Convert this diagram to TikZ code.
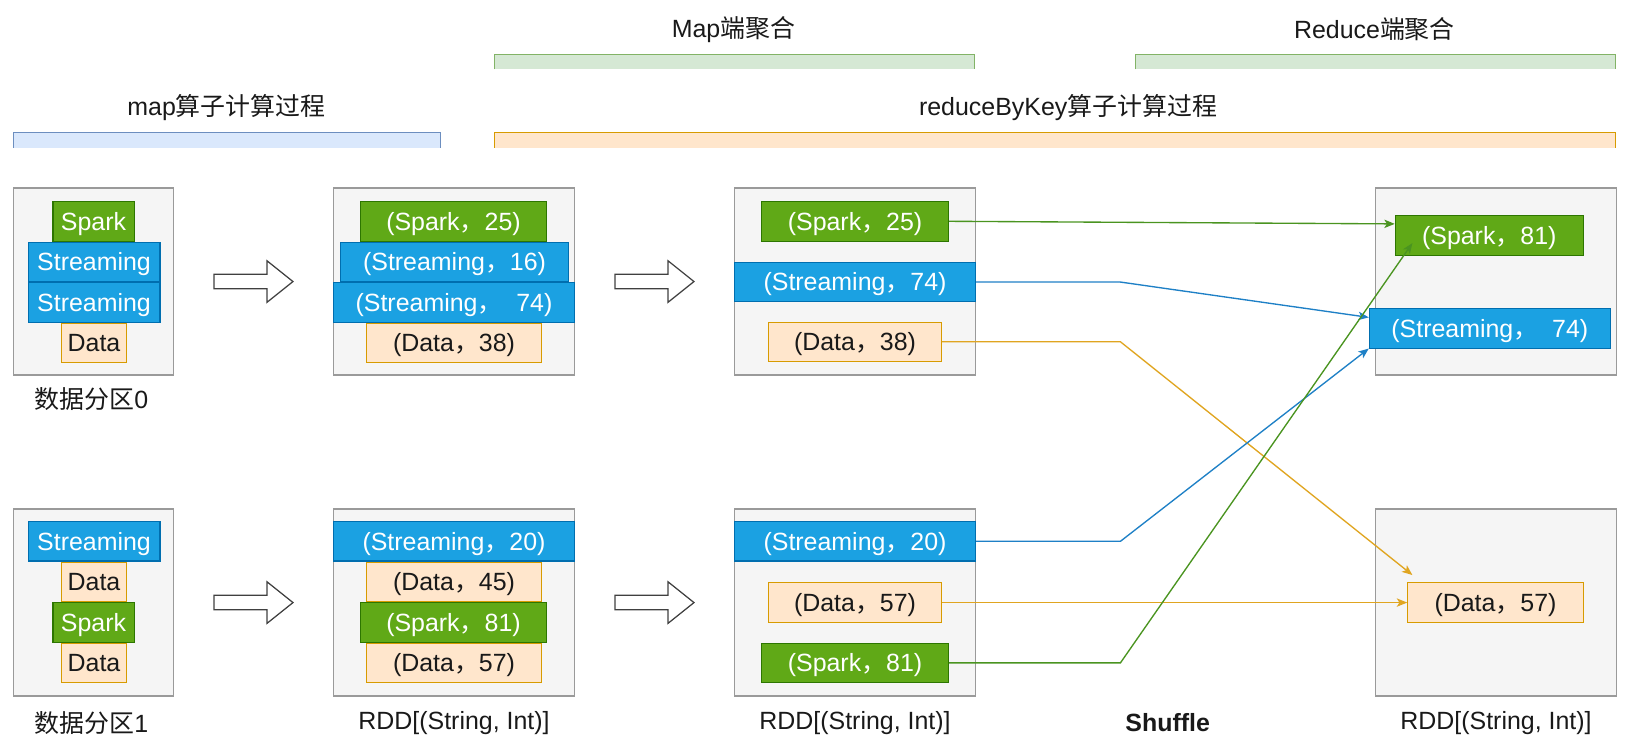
\documentclass[tikz,border=0pt]{standalone}
\usepackage{fontspec}
\setmainfont{Liberation Sans}
\newfontfamily\cjk{Noto Sans CJK SC}
\usetikzlibrary{arrows.meta, positioning, calc}

\definecolor{sparkfill}{HTML}{60A917}
\definecolor{sparkline}{HTML}{2D7600}
\definecolor{streamfill}{HTML}{1BA1E2}
\definecolor{streamline}{HTML}{006EAF}
\definecolor{datafill}{HTML}{FFE6CC}
\definecolor{dataline}{HTML}{D79B00}
\definecolor{partfill}{HTML}{F5F5F5}
\definecolor{partline}{HTML}{9A9A9A}
\definecolor{barblue}{HTML}{DAE8FC}
\definecolor{barblueline}{HTML}{6C8EBF}
\definecolor{bargreen}{HTML}{D5E8D4}
\definecolor{bargreenline}{HTML}{82B366}
\definecolor{greenarrow}{HTML}{4A9420}
\definecolor{bluearrow}{HTML}{1E80C6}
\definecolor{orangearrow}{HTML}{E0A520}

\newcommand{\zhcomma}{{\cjk ，}}

\tikzset{
  item/.style={draw, line width=1pt, inner sep=0pt, minimum height=38pt,
    text height=20pt, text depth=3pt, font=\fontsize{24}{28}\selectfont},
  spark/.style={item, fill=sparkfill, draw=sparkline, text=white},
  stream/.style={item, fill=streamfill, draw=streamline, text=white},
  data/.style={item, fill=datafill, draw=dataline, text=black!90},
  part/.style={draw=partline, fill=partfill, line width=1.5pt,
    minimum width=232pt, minimum height=180pt, inner sep=0pt},
  caption/.style={font=\fontsize{24}{28}\selectfont, text=black!90},
  bar/.style={inner sep=0pt, minimum height=14pt},
  barline/.style={line width=1.2pt},
  hollowarrow/.style={draw=black!75, fill=white, line width=1.2pt, line join=miter},
  conn/.style={line width=1.3pt, -{Stealth[length=10pt, width=8pt, inset=2.5pt]}}
}

\begin{document}
\begin{tikzpicture}[x=1pt, y=-1pt]
\useasboundingbox (0,0) rectangle (1568,723);

% phase bars
\node[bar, fill=bargreen, minimum width=462pt] (barmap) at (707,59.5) {};
\draw[barline, bargreenline] (barmap.south west) |- (barmap.north east) -- (barmap.south east);
\node[caption] (tmap) at (706,28) {Map{\cjk 端聚合}};

\node[bar, fill=bargreen, minimum width=462pt] (barred) at (1324,59.5) {};
\draw[barline, bargreenline] (barred.south west) |- (barred.north east) -- (barred.south east);
\node[caption] (tred) at (1323,28) {Reduce{\cjk 端聚合}};

\node[bar, fill=barblue, minimum width=411pt] (barmapop) at (218.5,135) {};
\draw[barline, barblueline] (barmapop.south west) |- (barmapop.north east) -- (barmapop.south east);
\node[caption] (tmapop) at (218,104) {map{\cjk 算子计算过程}};

\node[bar, fill=datafill, minimum width=1079pt] (barrbk) at (1015.5,135) {};
\draw[barline, dataline] (barrbk.south west) |- (barrbk.north east) -- (barrbk.south east);
\node[caption] (trbk) at (1028,104) {reduceByKey{\cjk 算子计算过程}};

% partitions
\node[part, minimum width=154pt] (in0) at (90,271) {};
\node[part, minimum width=154pt] (in1) at (90,580) {};
\node[part] (map0) at (437,271) {};
\node[part] (map1) at (437,580) {};
\node[part] (comb0) at (823,271) {};
\node[part] (comb1) at (823,580) {};
\node[part] (red0) at (1440,271) {};
\node[part] (red1) at (1440,580) {};

% input records
\node[spark, minimum width=78pt] (in0a) at (90,213) {Spark};
\node[stream, minimum width=127pt] (in0b) at (90.5,252) {Streaming};
\node[stream, minimum width=127pt] (in0c) at (90.5,291) {Streaming};
\node[data, minimum width=63pt] (in0d) at (90.5,330) {Data};

\node[stream, minimum width=127pt] (in1a) at (90.5,521) {Streaming};
\node[data, minimum width=63pt] (in1b) at (90.5,560) {Data};
\node[spark, minimum width=78pt] (in1c) at (90,599) {Spark};
\node[data, minimum width=63pt] (in1d) at (90.5,638) {Data};

% after map
\node[spark, minimum width=179pt] (map0a) at (436.5,213) {(Spark\zhcomma 25)};
\node[stream, minimum width=219pt] (map0b) at (437.5,252) {(Streaming\zhcomma 16)};
\node[stream, minimum width=232pt] (map0c) at (437,291) {(Streaming\zhcomma\ \ 74)};
\node[data, minimum width=168pt] (map0d) at (437,330) {(Data\zhcomma 38)};

\node[stream, minimum width=232pt] (map1a) at (437,521) {(Streaming\zhcomma 20)};
\node[data, minimum width=168pt] (map1b) at (437,560) {(Data\zhcomma 45)};
\node[spark, minimum width=179pt] (map1c) at (436.5,599) {(Spark\zhcomma 81)};
\node[data, minimum width=168pt] (map1d) at (437,638) {(Data\zhcomma 57)};

% map side combine
\node[spark, minimum width=180pt] (comb0a) at (823,213) {(Spark\zhcomma 25)};
\node[stream, minimum width=232pt] (comb0b) at (823,271.5) {(Streaming\zhcomma 74)};
\node[data, minimum width=166pt] (comb0c) at (823,329) {(Data\zhcomma 38)};

\node[stream, minimum width=232pt] (comb1a) at (823,521) {(Streaming\zhcomma 20)};
\node[data, minimum width=166pt] (comb1b) at (823,580) {(Data\zhcomma 57)};
\node[spark, minimum width=180pt] (comb1c) at (823,638) {(Spark\zhcomma 81)};

% reduce side
\node[spark, minimum width=181pt] (red0a) at (1433.5,226.5) {(Spark\zhcomma 81)};
\node[stream, minimum width=232pt] (red0b) at (1434,316) {(Streaming\zhcomma\ \ 74)};
\node[data, minimum width=169pt] (red1a) at (1439.5,580) {(Data\zhcomma 57)};

% captions
\node[caption] (cin0) at (88,384) {{\cjk 数据分区}0};
\node[caption] (cin1) at (88,696) {{\cjk 数据分区}1};
\node[caption] (cmap) at (437,696) {RDD[(String, Int)]};
\node[caption] (ccomb) at (823,696) {RDD[(String, Int)]};
\node[caption] (cshuf) at (1124,696) {\bfseries Shuffle};
\node[caption] (cred) at (1440,696) {RDD[(String, Int)]};

% block arrows
\foreach \ax/\ay in {244/271, 244/580, 630/271, 630/580}
  \draw[hollowarrow] (\ax,\ay) ++(-38,-7) -- ++(51,0) -- ++(0,-13) -- ++(25,20)
    -- ++(-25,20) -- ++(0,-13) -- ++(-51,0) -- cycle;

% shuffle
\draw[conn, greenarrow] (comb0a.east) -- ([yshift=11pt]red0a.west);
\draw[conn, bluearrow] (comb0b.east) -- ++(139,0) -- ([yshift=-9pt]red0b.north west);
\draw[conn, orangearrow] (comb0c.east) -- ++(172,0) -- ($(red1a.north west)+(5,-7)$);
\draw[conn, bluearrow] (comb1a.east) -- ++(139,0) -- (red0b.south west);
\draw[conn, orangearrow] (comb1b.east) -- (red1a.west);
\draw[conn, greenarrow] (comb1c.east) -- ++(165,0) -- ($(red0a.south west)+(17,-12)$);
\end{tikzpicture}
\end{document}
